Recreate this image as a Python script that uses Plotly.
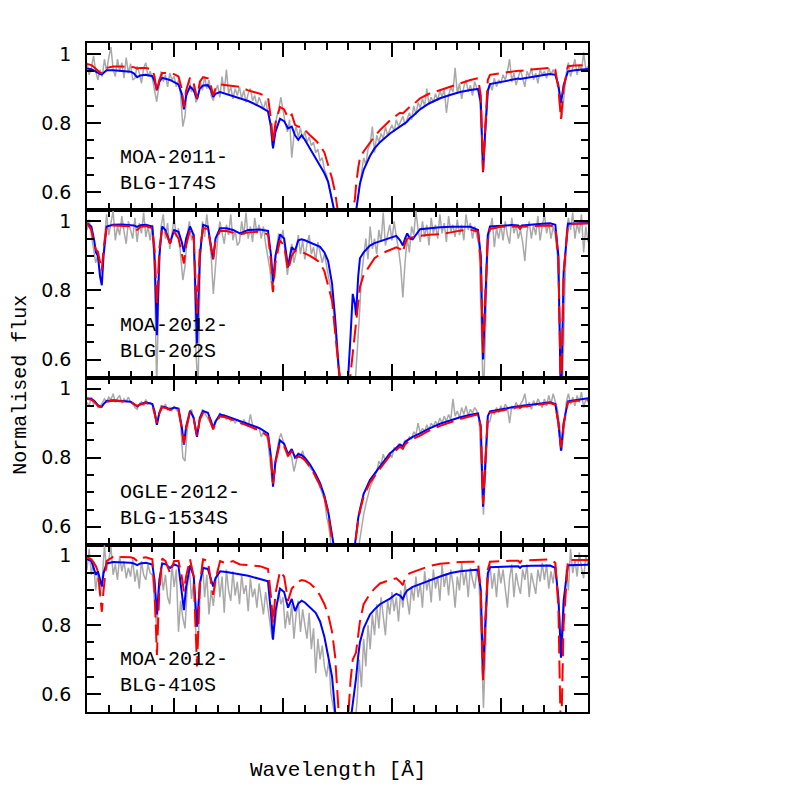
## spectres normalises autour de H-alpha, 4 sources
import plotly.graph_objects as go
from plotly.subplots import make_subplots

### longueurs d'onde (A) des modeles
wave_model = [
    6551.00, 6551.20, 6551.33, 6551.41, 6551.50, 6551.60, 6551.68, 6551.76, 6551.90, 6552.20,
    6552.60, 6553.00, 6553.15, 6553.30, 6553.45, 6553.70, 6554.00, 6554.10, 6554.21, 6554.32,
    6554.45, 6554.60, 6554.81, 6555.00, 6555.20, 6555.35, 6555.45, 6555.55, 6555.73, 6555.90,
    6556.05, 6556.18, 6556.33, 6556.55, 6556.70, 6556.79, 6556.90, 6557.11, 6557.40, 6557.70,
    6558.02, 6558.40, 6558.94, 6559.31, 6559.45, 6559.54, 6559.65, 6559.86, 6560.05, 6560.23,
    6560.40, 6560.55, 6560.70, 6560.85, 6561.00, 6561.24, 6561.50, 6561.70, 6561.90, 6562.07,
    6562.25, 6562.39, 6562.55, 6562.85, 6563.10, 6563.20, 6563.30, 6563.35, 6563.45, 6563.53,
    6563.70, 6563.99, 6564.20, 6564.45, 6564.91, 6565.20, 6565.37, 6565.50, 6565.60, 6565.70,
    6565.83, 6565.95, 6566.29, 6566.70, 6567.21, 6567.70, 6568.13, 6568.60, 6568.95, 6569.08,
    6569.18, 6569.28, 6569.40, 6569.50, 6570.00, 6570.50, 6570.80, 6570.88, 6570.96, 6571.40,
    6571.90, 6572.26, 6572.50, 6572.64, 6572.76, 6572.88, 6573.08, 6573.40, 6574.00]

### longueurs d'onde (A) des spectres observes
wave_obs = [
    6551.0, 6551.1, 6551.2, 6551.3, 6551.4, 6551.5, 6551.6, 6551.7, 6551.8, 6551.9,
    6552.0, 6552.1, 6552.2, 6552.3, 6552.4, 6552.5, 6552.6, 6552.7, 6552.8, 6552.9,
    6553.0, 6553.1, 6553.2, 6553.3, 6553.4, 6553.5, 6553.6, 6553.7, 6553.8, 6553.9,
    6554.0, 6554.1, 6554.2, 6554.3, 6554.4, 6554.5, 6554.6, 6554.7, 6554.8, 6554.9,
    6555.0, 6555.1, 6555.2, 6555.3, 6555.4, 6555.5, 6555.6, 6555.7, 6555.8, 6555.9,
    6556.0, 6556.1, 6556.2, 6556.3, 6556.4, 6556.5, 6556.6, 6556.7, 6556.8, 6556.9,
    6557.0, 6557.1, 6557.2, 6557.3, 6557.4, 6557.5, 6557.6, 6557.7, 6557.8, 6557.9,
    6558.0, 6558.1, 6558.2, 6558.3, 6558.4, 6558.5, 6558.6, 6558.7, 6558.8, 6558.9,
    6559.0, 6559.1, 6559.2, 6559.3, 6559.4, 6559.5, 6559.6, 6559.7, 6559.8, 6559.9,
    6560.0, 6560.1, 6560.2, 6560.3, 6560.4, 6560.5, 6560.6, 6560.7, 6560.8, 6560.9,
    6561.0, 6561.1, 6561.2, 6561.3, 6561.4, 6561.5, 6561.6, 6561.7, 6561.8, 6561.9,
    6562.0, 6562.1, 6562.2, 6562.3, 6562.4, 6562.5, 6562.6, 6562.7, 6562.8, 6562.9,
    6563.0, 6563.1, 6563.2, 6563.3, 6563.4, 6563.5, 6563.6, 6563.7, 6563.8, 6563.9,
    6564.0, 6564.1, 6564.2, 6564.3, 6564.4, 6564.5, 6564.6, 6564.7, 6564.8, 6564.9,
    6565.0, 6565.1, 6565.2, 6565.3, 6565.4, 6565.5, 6565.6, 6565.7, 6565.8, 6565.9,
    6566.0, 6566.1, 6566.2, 6566.3, 6566.4, 6566.5, 6566.6, 6566.7, 6566.8, 6566.9,
    6567.0, 6567.1, 6567.2, 6567.3, 6567.4, 6567.5, 6567.6, 6567.7, 6567.8, 6567.9,
    6568.0, 6568.1, 6568.2, 6568.3, 6568.4, 6568.5, 6568.6, 6568.7, 6568.8, 6568.9,
    6569.0, 6569.1, 6569.2, 6569.3, 6569.4, 6569.5, 6569.6, 6569.7, 6569.8, 6569.9,
    6570.0, 6570.1, 6570.2, 6570.3, 6570.4, 6570.5, 6570.6, 6570.7, 6570.8, 6570.9,
    6571.0, 6571.1, 6571.2, 6571.3, 6571.4, 6571.5, 6571.6, 6571.7, 6571.8, 6571.9,
    6572.0, 6572.1, 6572.2, 6572.3, 6572.4, 6572.5, 6572.6, 6572.7, 6572.8, 6572.9,
    6573.0, 6573.1, 6573.2, 6573.3, 6573.4, 6573.5, 6573.6, 6573.7, 6573.8, 6573.9,
    6574.0]

star_names = ["MOA-2011-<br>BLG-174S", "MOA-2012-<br>BLG-202S",
              "OGLE-2012-<br>BLG-1534S", "MOA-2012-<br>BLG-410S"]

### MOA-2011-BLG-174S
obs_174 = [
    0.975, 0.940, 0.960, 0.995, 0.950, 0.925, 0.955, 0.935, 0.985, 0.950,
    0.990, 1.020, 0.955, 0.935, 0.985, 0.950, 0.975, 0.930, 0.990, 0.945,
    0.972, 0.925, 0.930, 0.965, 0.945, 0.915, 0.960, 0.975, 0.935, 0.950,
    0.930, 0.900, 0.862, 0.905, 0.950, 0.920, 0.940, 0.905, 0.945, 0.925,
    0.935, 0.905, 0.925, 0.880, 0.790, 0.820, 0.905, 0.925, 0.890, 0.910,
    0.860, 0.875, 0.920, 0.895, 0.935, 0.900, 0.925, 0.880, 0.865, 0.895,
    0.910, 0.875, 0.935, 0.890, 0.955, 0.885, 0.905, 0.870, 0.900, 0.880,
    0.905, 0.870, 0.895, 0.860, 0.885, 0.900, 0.865, 0.880, 0.850, 0.875,
    0.860, 0.840, 0.865, 0.835, 0.800, 0.735, 0.760, 0.815, 0.840, 0.875,
    0.835, 0.800, 0.775, 0.810, 0.700, 0.765, 0.790, 0.760, 0.785, 0.755,
    0.775, 0.745, 0.760, 0.735, 0.745, 0.715, 0.725, 0.690, 0.700, 0.665,
    0.650, 0.620, 0.600, 0.560, 0.520, 0.480, 0.450, 0.430, 0.420, 0.410,
    0.430, 0.450, 0.480, 0.520, 0.565, 0.610, 0.660, 0.700, 0.680, 0.725,
    0.740, 0.790, 0.715, 0.765, 0.745, 0.770, 0.755, 0.790, 0.765, 0.780,
    0.795, 0.775, 0.810, 0.790, 0.805, 0.820, 0.795, 0.815, 0.830, 0.810,
    0.850, 0.825, 0.860, 0.845, 0.870, 0.850, 0.900, 0.855, 0.875, 0.860,
    0.885, 0.865, 0.895, 0.875, 0.900, 0.830, 0.880, 0.905, 0.890, 0.960,
    0.885, 0.915, 0.870, 0.905, 0.925, 0.890, 0.910, 0.880, 0.920, 0.900,
    0.895, 0.790, 0.665, 0.770, 0.880, 0.915, 0.895, 0.930, 0.905, 0.925,
    0.915, 0.940, 0.925, 0.950, 0.985, 0.920, 0.945, 0.910, 0.935, 0.955,
    0.930, 0.905, 0.950, 0.935, 0.960, 0.925, 0.945, 0.915, 0.955, 0.940,
    0.950, 0.930, 0.960, 0.940, 0.955, 0.935, 0.920, 0.870, 0.815, 0.880,
    0.945, 0.975, 0.935, 0.960, 0.985, 0.940, 0.970, 0.950, 1.005, 0.955,
    0.965]
blue_174 = [
    0.958, 0.956, 0.952, 0.949, 0.945, 0.942, 0.941, 0.946, 0.953, 0.953,
    0.951, 0.949, 0.944, 0.933, 0.938, 0.940, 0.936, 0.922, 0.896, 0.920,
    0.931, 0.929, 0.925, 0.919, 0.912, 0.885, 0.840, 0.880, 0.906, 0.895,
    0.870, 0.900, 0.909, 0.910, 0.895, 0.876, 0.885, 0.890, 0.884, 0.879,
    0.872, 0.864, 0.848, 0.834, 0.790, 0.727, 0.775, 0.813, 0.806, 0.785,
    0.790, 0.765, 0.752, 0.765, 0.752, 0.727, 0.700, 0.678, 0.655, 0.630,
    0.580, 0.548, 0.500, 0.400, 0.480, 0.500, 0.520, 0.545, 0.590, 0.625,
    0.665, 0.705, 0.727, 0.745, 0.770, 0.782, 0.788, 0.795, 0.800, 0.805,
    0.815, 0.820, 0.840, 0.857, 0.872, 0.882, 0.890, 0.896, 0.899, 0.860,
    0.658, 0.780, 0.895, 0.913, 0.920, 0.926, 0.929, 0.928, 0.929, 0.934,
    0.939, 0.942, 0.940, 0.910, 0.858, 0.910, 0.950, 0.953, 0.957]
red_174 = [
    0.971, 0.968, 0.962, 0.957, 0.950, 0.946, 0.945, 0.952, 0.960, 0.964,
    0.964, 0.963, 0.962, 0.958, 0.960, 0.960, 0.955, 0.935, 0.890, 0.925,
    0.945, 0.945, 0.944, 0.942, 0.935, 0.900, 0.846, 0.895, 0.932, 0.915,
    0.872, 0.920, 0.933, 0.930, 0.905, 0.880, 0.900, 0.912, 0.910, 0.908,
    0.905, 0.895, 0.885, 0.875, 0.810, 0.742, 0.800, 0.847, 0.840, 0.815,
    0.825, 0.795, 0.790, 0.790, 0.780, 0.765, 0.750, 0.736, 0.715, 0.680,
    0.640, 0.600, 0.545, 0.400, 0.480, 0.550, 0.580, 0.620, 0.670, 0.700,
    0.718, 0.745, 0.762, 0.780, 0.808, 0.822, 0.830, 0.828, 0.835, 0.840,
    0.848, 0.852, 0.872, 0.885, 0.896, 0.907, 0.917, 0.925, 0.930, 0.880,
    0.660, 0.790, 0.925, 0.940, 0.945, 0.950, 0.952, 0.951, 0.952, 0.955,
    0.959, 0.960, 0.955, 0.900, 0.812, 0.900, 0.965, 0.967, 0.968]

### MOA-2012-BLG-202S
obs_202 = [
    0.975, 1.005, 0.960, 0.915, 0.880, 0.905, 0.845, 0.870, 0.950, 1.020,
    0.960, 0.995, 1.030, 0.945, 0.985, 0.960, 1.015, 0.970, 0.935, 1.000,
    0.975, 0.950, 1.010, 0.940, 0.995, 0.965, 1.025, 0.955, 0.985, 0.945,
    0.990, 0.850, 0.520, 0.820, 0.985, 1.020, 0.950, 0.995, 0.920, 0.960,
    1.010, 0.955, 0.980, 0.900, 0.830, 0.870, 0.960, 1.000, 0.945, 0.965,
    0.620, 0.520, 0.880, 1.000, 0.955, 1.020, 0.960, 0.900, 0.790, 0.880,
    0.950, 1.000, 0.965, 0.935, 0.990, 0.960, 1.020, 0.945, 0.975, 0.930,
    0.940, 1.000, 0.960, 1.025, 0.950, 0.985, 0.940, 1.010, 0.965, 0.990,
    0.950, 0.985, 0.935, 0.900, 0.860, 0.800, 0.840, 0.920, 0.965, 0.945,
    0.975, 0.905, 0.845, 0.900, 0.935, 0.880, 0.910, 0.960, 0.905, 0.945,
    0.890, 0.935, 0.960, 0.905, 0.925, 0.885, 0.940, 0.910, 0.880, 0.905,
    0.870, 0.845, 0.800, 0.750, 0.660, 0.560, 0.490, 0.450, 0.430, 0.420,
    0.430, 0.450, 0.480, 0.520, 0.610, 0.720, 0.840, 0.900, 0.950, 0.890,
    0.985, 0.920, 0.950, 0.905, 0.975, 0.940, 1.025, 0.930, 0.965, 0.990,
    0.945, 1.000, 0.955, 0.920, 0.870, 0.780, 0.880, 0.950, 0.910, 0.985,
    0.960, 1.030, 0.975, 0.940, 1.000, 0.955, 0.990, 0.930, 1.010, 0.965,
    0.990, 0.950, 1.020, 0.965, 0.995, 0.940, 1.015, 0.970, 0.990, 0.955,
    1.005, 0.960, 0.990, 0.945, 1.020, 0.975, 0.995, 0.950, 0.985, 0.960,
    0.930, 0.700, 0.480, 0.700, 0.930, 0.975, 1.010, 0.925, 0.980, 0.950,
    0.990, 0.945, 1.000, 0.960, 0.935, 1.010, 0.965, 0.990, 0.950, 0.975,
    0.940, 0.885, 0.970, 1.000, 0.950, 0.990, 0.960, 1.015, 0.945, 0.985,
    1.020, 0.965, 0.995, 0.950, 0.985, 0.960, 0.900, 0.700, 0.450, 0.700,
    0.960, 1.010, 0.975, 1.025, 0.950, 0.995, 0.965, 1.020, 0.910, 0.985,
    0.940]
blue_202 = [
    0.995, 0.985, 0.945, 0.910, 0.900, 0.840, 0.815, 0.900, 0.985, 0.990,
    0.991, 0.990, 0.988, 0.984, 0.989, 0.990, 0.985, 0.900, 0.670, 0.900,
    0.985, 0.975, 0.937, 0.975, 0.970, 0.940, 0.911, 0.950, 0.985, 0.960,
    0.646, 0.900, 0.990, 0.985, 0.930, 0.890, 0.950, 0.980, 0.980, 0.975,
    0.965, 0.975, 0.976, 0.972, 0.900, 0.824, 0.900, 0.962, 0.950, 0.868,
    0.925, 0.915, 0.945, 0.948, 0.945, 0.938, 0.932, 0.926, 0.910, 0.885,
    0.820, 0.720, 0.580, 0.400, 0.670, 0.790, 0.760, 0.728, 0.840, 0.893,
    0.910, 0.930, 0.937, 0.942, 0.952, 0.958, 0.945, 0.930, 0.950, 0.965,
    0.950, 0.948, 0.977, 0.980, 0.983, 0.984, 0.985, 0.984, 0.975, 0.900,
    0.600, 0.780, 0.960, 0.985, 0.987, 0.989, 0.988, 0.983, 0.988, 0.991,
    0.993, 0.994, 0.990, 0.900, 0.450, 0.850, 0.993, 0.994, 0.995]
red_202 = [
    0.995, 0.975, 0.935, 0.918, 0.912, 0.875, 0.858, 0.920, 0.985, 0.988,
    0.988, 0.986, 0.982, 0.975, 0.984, 0.986, 0.980, 0.920, 0.760, 0.920,
    0.980, 0.970, 0.935, 0.970, 0.950, 0.905, 0.878, 0.930, 0.975, 0.950,
    0.733, 0.920, 0.980, 0.978, 0.925, 0.890, 0.945, 0.972, 0.972, 0.968,
    0.962, 0.968, 0.970, 0.962, 0.880, 0.795, 0.880, 0.945, 0.930, 0.858,
    0.900, 0.915, 0.912, 0.912, 0.908, 0.900, 0.890, 0.880, 0.855, 0.810,
    0.770, 0.680, 0.560, 0.400, 0.560, 0.620, 0.680, 0.710, 0.770, 0.810,
    0.845, 0.875, 0.893, 0.905, 0.918, 0.925, 0.920, 0.910, 0.935, 0.950,
    0.952, 0.954, 0.958, 0.961, 0.963, 0.968, 0.973, 0.976, 0.970, 0.880,
    0.620, 0.780, 0.950, 0.978, 0.984, 0.985, 0.984, 0.978, 0.984, 0.986,
    0.988, 0.988, 0.984, 0.890, 0.480, 0.850, 0.990, 0.993, 0.994]

### OGLE-2012-BLG-1534S
obs_1534 = [
    0.960, 0.950, 0.975, 0.955, 0.960, 0.945, 0.950, 0.958, 0.970, 0.962,
    0.975, 0.968, 0.985, 0.960, 0.972, 0.980, 0.958, 0.970, 0.962, 0.975,
    0.960, 0.955, 0.945, 0.940, 0.955, 0.962, 0.950, 0.968, 0.955, 0.960,
    0.955, 0.925, 0.895, 0.925, 0.952, 0.945, 0.955, 0.938, 0.945, 0.935,
    0.948, 0.940, 0.930, 0.895, 0.800, 0.790, 0.880, 0.925, 0.940, 0.910,
    0.870, 0.880, 0.920, 0.940, 0.930, 0.922, 0.908, 0.895, 0.888, 0.900,
    0.918, 0.930, 0.915, 0.925, 0.910, 0.920, 0.905, 0.915, 0.900, 0.910,
    0.905, 0.895, 0.910, 0.900, 0.890, 0.925, 0.895, 0.880, 0.890, 0.885,
    0.860, 0.875, 0.870, 0.850, 0.790, 0.730, 0.745, 0.810, 0.850, 0.870,
    0.850, 0.825, 0.805, 0.815, 0.800, 0.760, 0.790, 0.815, 0.805, 0.820,
    0.795, 0.785, 0.775, 0.765, 0.760, 0.740, 0.730, 0.715, 0.695, 0.680,
    0.630, 0.600, 0.550, 0.500, 0.460, 0.430, 0.420, 0.410, 0.400, 0.400,
    0.410, 0.420, 0.440, 0.470, 0.510, 0.555, 0.600, 0.635, 0.665, 0.690,
    0.715, 0.730, 0.745, 0.760, 0.790, 0.780, 0.810, 0.790, 0.805, 0.815,
    0.800, 0.830, 0.820, 0.840, 0.830, 0.835, 0.850, 0.845, 0.860, 0.855,
    0.875, 0.865, 0.900, 0.870, 0.885, 0.875, 0.895, 0.880, 0.900, 0.890,
    0.905, 0.895, 0.915, 0.900, 0.920, 0.905, 0.925, 0.910, 0.970, 0.920,
    0.935, 0.915, 0.945, 0.925, 0.950, 0.920, 0.940, 0.930, 0.945, 0.935,
    0.910, 0.780, 0.635, 0.760, 0.900, 0.905, 0.935, 0.925, 0.945, 0.930,
    0.950, 0.935, 0.955, 0.945, 0.900, 0.950, 0.940, 0.960, 0.945, 0.955,
    0.965, 0.985, 0.945, 0.960, 0.940, 0.965, 0.950, 0.970, 0.955, 0.945,
    0.970, 0.950, 0.980, 0.955, 0.985, 0.960, 0.940, 0.890, 0.820, 0.880,
    0.960, 0.985, 0.955, 0.975, 0.950, 0.980, 0.960, 0.990, 0.945, 0.970,
    0.960]
blue_1534 = [
    0.972, 0.970, 0.965, 0.958, 0.952, 0.948, 0.948, 0.955, 0.964, 0.966,
    0.965, 0.962, 0.956, 0.948, 0.955, 0.960, 0.955, 0.935, 0.895, 0.930,
    0.948, 0.946, 0.940, 0.945, 0.942, 0.890, 0.838, 0.890, 0.936, 0.915,
    0.860, 0.915, 0.935, 0.930, 0.905, 0.885, 0.905, 0.925, 0.920, 0.913,
    0.907, 0.898, 0.885, 0.870, 0.800, 0.716, 0.790, 0.850, 0.840, 0.810,
    0.825, 0.800, 0.810, 0.808, 0.800, 0.780, 0.752, 0.726, 0.690, 0.645,
    0.565, 0.520, 0.460, 0.380, 0.450, 0.490, 0.548, 0.580, 0.625, 0.650,
    0.695, 0.735, 0.755, 0.775, 0.812, 0.830, 0.838, 0.833, 0.845, 0.850,
    0.856, 0.860, 0.870, 0.884, 0.898, 0.909, 0.917, 0.924, 0.928, 0.890,
    0.658, 0.780, 0.920, 0.934, 0.940, 0.946, 0.949, 0.948, 0.950, 0.953,
    0.957, 0.960, 0.955, 0.900, 0.820, 0.900, 0.963, 0.966, 0.972]
red_1534 = [
    0.970, 0.968, 0.962, 0.955, 0.950, 0.946, 0.947, 0.953, 0.962, 0.965,
    0.964, 0.961, 0.955, 0.950, 0.954, 0.958, 0.953, 0.930, 0.900, 0.928,
    0.946, 0.944, 0.938, 0.942, 0.940, 0.885, 0.840, 0.885, 0.932, 0.912,
    0.862, 0.910, 0.930, 0.926, 0.900, 0.882, 0.900, 0.920, 0.916, 0.909,
    0.902, 0.892, 0.878, 0.862, 0.800, 0.725, 0.785, 0.843, 0.833, 0.805,
    0.818, 0.798, 0.803, 0.800, 0.793, 0.773, 0.745, 0.720, 0.685, 0.640,
    0.560, 0.515, 0.460, 0.380, 0.450, 0.490, 0.548, 0.578, 0.618, 0.645,
    0.688, 0.728, 0.748, 0.768, 0.806, 0.823, 0.832, 0.826, 0.838, 0.844,
    0.850, 0.854, 0.864, 0.878, 0.892, 0.903, 0.912, 0.920, 0.925, 0.890,
    0.665, 0.780, 0.915, 0.930, 0.937, 0.943, 0.946, 0.944, 0.947, 0.950,
    0.955, 0.958, 0.953, 0.900, 0.830, 0.895, 0.960, 0.964, 0.968]

### MOA-2012-BLG-410S
obs_410 = [
    0.960, 1.020, 0.945, 0.985, 0.900, 0.950, 0.880, 0.930, 1.030, 0.960,
    0.990, 1.025, 0.945, 0.975, 0.930, 1.000, 0.955, 0.985, 0.935, 0.965,
    0.940, 0.990, 0.925, 0.960, 0.905, 0.985, 0.945, 0.930, 0.975, 0.950,
    0.945, 0.860, 0.790, 0.880, 0.965, 0.900, 0.945, 0.880, 0.860, 0.975,
    0.910, 0.960, 0.780, 0.870, 0.820, 0.790, 0.905, 0.965, 0.875, 0.930,
    0.770, 0.740, 0.905, 0.985, 0.880, 0.945, 0.830, 0.900, 0.855, 0.920,
    0.965, 0.880, 0.940, 0.835, 0.960, 0.900, 0.870, 0.955, 0.885, 0.925,
    0.860, 0.945, 0.890, 0.915, 0.840, 0.935, 0.880, 0.905, 0.850, 0.920,
    0.870, 0.830, 0.895, 0.850, 0.810, 0.760, 0.790, 0.835, 0.900, 0.860,
    0.880, 0.790, 0.840, 0.800, 0.860, 0.760, 0.830, 0.870, 0.780, 0.845,
    0.800, 0.760, 0.835, 0.730, 0.790, 0.660, 0.760, 0.700, 0.740, 0.680,
    0.650, 0.700, 0.600, 0.560, 0.500, 0.460, 0.430, 0.420, 0.410, 0.400,
    0.410, 0.430, 0.460, 0.510, 0.580, 0.700, 0.620, 0.760, 0.680, 0.800,
    0.730, 0.830, 0.770, 0.860, 0.790, 0.880, 0.820, 0.770, 0.870, 0.830,
    0.895, 0.840, 0.880, 0.810, 0.900, 0.850, 0.920, 0.870, 0.830, 0.910,
    0.870, 0.940, 0.880, 0.920, 0.850, 0.955, 0.900, 0.935, 0.865, 0.960,
    0.905, 0.940, 0.870, 0.975, 0.910, 0.950, 0.885, 0.960, 0.920, 0.850,
    0.940, 0.900, 0.980, 0.915, 0.955, 0.880, 0.965, 0.930, 0.905, 0.960,
    0.920, 0.760, 0.560, 0.740, 0.920, 0.975, 0.905, 0.950, 0.880, 0.965,
    0.920, 0.960, 0.900, 0.850, 0.935, 0.975, 0.880, 0.950, 0.915, 0.890,
    0.960, 0.930, 0.975, 0.880, 0.950, 0.915, 0.890, 0.960, 0.925, 0.980,
    0.930, 0.975, 0.905, 0.955, 0.920, 0.980, 0.900, 0.830, 0.720, 0.840,
    0.960, 0.900, 1.020, 0.950, 0.990, 0.940, 1.010, 0.965, 0.935, 1.000,
    0.975]
blue_410 = [
    0.990, 0.985, 0.960, 0.945, 0.955, 0.925, 0.911, 0.950, 0.978, 0.982,
    0.982, 0.980, 0.978, 0.973, 0.978, 0.980, 0.975, 0.930, 0.830, 0.930,
    0.978, 0.976, 0.965, 0.975, 0.970, 0.900, 0.843, 0.910, 0.972, 0.940,
    0.795, 0.920, 0.965, 0.962, 0.930, 0.911, 0.935, 0.955, 0.953, 0.950,
    0.948, 0.942, 0.933, 0.926, 0.830, 0.757, 0.840, 0.905, 0.895, 0.850,
    0.875, 0.840, 0.862, 0.870, 0.865, 0.850, 0.835, 0.810, 0.765, 0.710,
    0.650, 0.550, 0.470, 0.400, 0.520, 0.560, 0.620, 0.645, 0.710, 0.750,
    0.790, 0.830, 0.845, 0.860, 0.876, 0.890, 0.885, 0.875, 0.890, 0.900,
    0.905, 0.910, 0.918, 0.928, 0.940, 0.950, 0.955, 0.958, 0.960, 0.900,
    0.650, 0.800, 0.950, 0.967, 0.968, 0.970, 0.970, 0.965, 0.970, 0.971,
    0.971, 0.972, 0.965, 0.880, 0.705, 0.870, 0.973, 0.974, 0.974]
red_410 = [
    0.995, 0.990, 0.978, 0.970, 0.955, 0.880, 0.838, 0.900, 0.985, 0.997,
    0.997, 0.996, 0.993, 0.985, 0.993, 0.996, 0.990, 0.900, 0.713, 0.900,
    0.992, 0.985, 0.950, 0.985, 0.985, 0.940, 0.897, 0.940, 0.990, 0.940,
    0.680, 0.920, 0.990, 0.985, 0.920, 0.887, 0.930, 0.985, 0.978, 0.985,
    0.975, 0.973, 0.970, 0.962, 0.880, 0.805, 0.890, 0.955, 0.940, 0.870,
    0.905, 0.915, 0.925, 0.930, 0.928, 0.920, 0.905, 0.885, 0.860, 0.830,
    0.780, 0.710, 0.550, 0.400, 0.640, 0.700, 0.715, 0.720, 0.770, 0.810,
    0.860, 0.890, 0.905, 0.920, 0.930, 0.935, 0.925, 0.915, 0.935, 0.945,
    0.950, 0.953, 0.962, 0.970, 0.977, 0.980, 0.982, 0.983, 0.982, 0.900,
    0.640, 0.800, 0.960, 0.983, 0.985, 0.986, 0.986, 0.980, 0.986, 0.988,
    0.990, 0.990, 0.980, 0.850, 0.450, 0.800, 0.988, 0.988, 0.988]

observed = [obs_174, obs_202, obs_1534, obs_410]
model_blue = [blue_174, blue_202, blue_1534, blue_410]
model_red = [red_174, red_202, red_1534, red_410]

mono = "Courier New, Liberation Mono, monospace"

fig = make_subplots(rows=4, cols=1, shared_xaxes=True, vertical_spacing=0)

for i in range(4):
    r = i + 1
    fig.add_trace(go.Scatter(x=wave_obs, y=observed[i], mode="lines",
                             line=dict(color="#a9a9a9", width=1.5)), row=r, col=1)
    fig.add_trace(go.Scatter(x=wave_model, y=model_blue[i], mode="lines",
                             line=dict(color="#0000ff", width=2)), row=r, col=1)
    fig.add_trace(go.Scatter(x=wave_model, y=model_red[i], mode="lines",
                             line=dict(color="#ff0000", width=2, dash="18px,7px")), row=r, col=1)
    fig.add_annotation(text=star_names[i], xref="x%s domain" % ("" if r == 1 else r),
                       yref="y%s domain" % ("" if r == 1 else r),
                       x=0.062, y=0.235, xanchor="left", yanchor="middle", align="left",
                       showarrow=False, font=dict(family=mono, size=20, color="black"))

fig.update_xaxes(range=[6551, 6574], showline=True, linecolor="black", linewidth=1.6,
                 mirror="ticks", ticks="inside", ticklen=14, tickwidth=1.5, tickcolor="black",
                 tick0=6550, dtick=5, showticklabels=False, showgrid=False, zeroline=False,
                 minor=dict(ticks="inside", ticklen=7, dtick=1, tick0=6550,
                            tickwidth=1.5, tickcolor="black", showgrid=False))
fig.update_yaxes(range=[0.548, 1.032], showline=True, linecolor="black", linewidth=1.6,
                 mirror="ticks", ticks="inside", ticklen=14, tickwidth=1.5, tickcolor="black",
                 tick0=0, dtick=0.2, showgrid=False, zeroline=False, ticklabelstandoff=10,
                 tickfont=dict(family="DejaVu Sans", size=19, color="black"),
                 minor=dict(ticks="inside", ticklen=7, dtick=0.05, tick0=0,
                            tickwidth=1.5, tickcolor="black", showgrid=False))

fig.add_annotation(text="Normalised flux", xref="paper", yref="paper", x=-0.132, y=0.489,
                   textangle=-90, showarrow=False, xanchor="center", yanchor="middle",
                   font=dict(family=mono, size=20, color="black"))
fig.add_annotation(text="Wavelength [Å]", xref="paper", yref="paper", x=0.5, y=-0.088,
                   showarrow=False, xanchor="center", yanchor="middle",
                   font=dict(family=mono, size=21, color="black"))

# la page ajoute 8 px de marge au corps : on decale le cadre
fig.update_layout(width=797, height=797, showlegend=False,
                  margin=dict(l=79, r=217, t=35, b=93),
                  plot_bgcolor="white", paper_bgcolor="white")

fig.write_html("out.html")
